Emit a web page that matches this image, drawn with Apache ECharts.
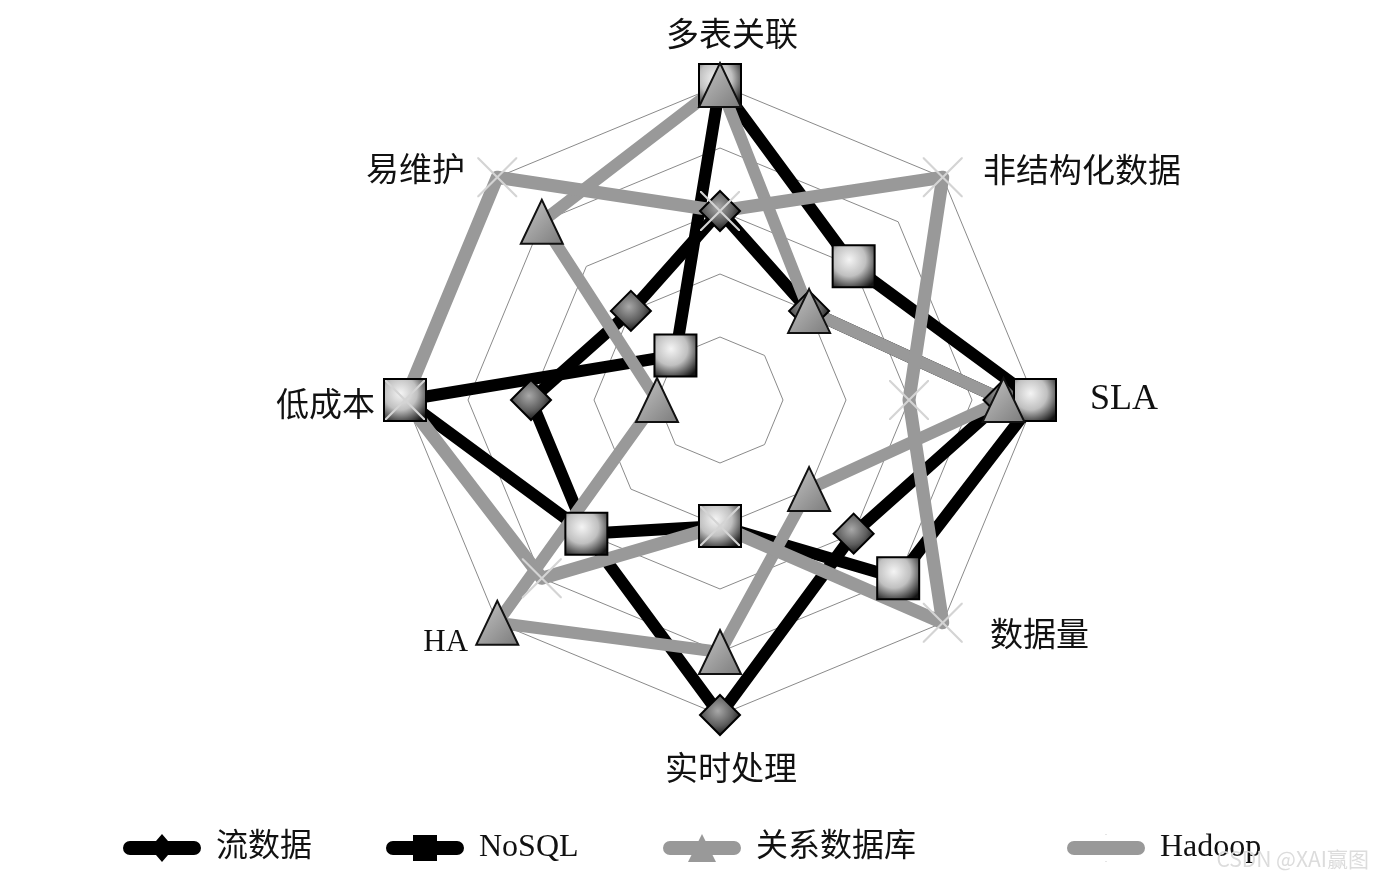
<!DOCTYPE html>
<html>
<head>
<meta charset="utf-8">
<title>radar</title>
<script src="https://cdn.jsdelivr.net/npm/echarts@6.0.0/dist/echarts.min.js"></script>
<style>
html,body{margin:0;padding:0;background:#fff;}
#main{width:1380px;height:883px;}
</style>
</head>
<body>
<div id="main"></div>
<script>
// 指标: ECharts 雷达图按逆时针排列, 从正上方开始
var indicators = ['多表关联', '易维护', '低成本', 'HA', '实时处理', '数据量', 'SLA', '非结构化数据'];
var indicatorMax = 5;
var seriesNames = ['流数据', 'NoSQL', '关系数据库', 'Hadoop'];
var streamData = [3, 2, 3, 3, 5, 3, 4.5, 2];
var nosqlData = [5, 1, 5, 3, 2, 4, 5, 3];
var rdbData = [5, 4, 1, 5, 4, 2, 4.5, 2];
var hadoopData = [3, 5, 5, 4, 2, 5, 3, 5];

var myChart = echarts.init(document.getElementById('main'));

var cjk = "'Liberation Serif', 'Noto Sans CJK SC', serif";

// 每个指标名的微调样式
var nameKey = {
    '多表关联': 'top', '非结构化数据': 'ur', 'SLA': 'r', '数据量': 'dr',
    '实时处理': 'bot', 'HA': 'dl', '低成本': 'l', '易维护': 'ul'
};

// X 形标记 (Hadoop)
var crossPath = 'path://M0,0 L1.5,0 L20,18.5 L38.5,0 L40,0 L40,1.5 L21.5,20 L40,38.5 L40,40 L38.5,40 L20,21.5 L1.5,40 L0,40 L0,38.5 L18.5,20 L0,1.5 Z';

var barPath = 'M7,7 L71,7 A7,7 0 0 1 71,21 L7,21 A7,7 0 0 1 7,7 Z';
var legendIcons = [
    'path://' + barPath + ' M39,0 L51,14 L39,28 L27,14 Z',
    'path://' + barPath + ' M27,1 L51,1 L51,27 L27,27 Z',
    'path://' + barPath + ' M39,0 L53,28 L25,28 Z',
    'path://' + barPath + ' M38,0 L40,0 L39,0.5 Z M38,28 L40,28 L39,27.5 Z'
];
var legendColors = ['#000', '#000', '#999', '#999'];
var legendLeft = [123, 386, 663, 1067];

option = {
    backgroundColor: '#fff',
    title: {
        text: 'CSDN @XAI赢图',
        right: 6,
        top: 844,
        textStyle: {
            color: '#dcdcdc',
            fontSize: 21,
            fontWeight: 'normal',
            fontFamily: "'Noto Sans CJK SC', sans-serif"
        }
    },
    legend: seriesNames.map(function (name, i) {
        return {
            data: [{
                name: name,
                icon: legendIcons[i],
                itemStyle: { color: legendColors[i], borderWidth: 0 }
            }],
            left: legendLeft[i],
            top: 832,
            padding: 0,
            itemWidth: 78,
            itemHeight: 28,
            selectedMode: false,
            textStyle: {
                fontSize: 32,
                color: '#111',
                fontFamily: cjk,
                padding: [0, 0, 0, 10]
            }
        };
    }),
    radar: {
        center: [720, 400],
        radius: 315,
        startAngle: 90,
        splitNumber: 5,
        shape: 'polygon',
        nameGap: 20,
        indicator: indicators.map(function (n) {
            return { name: n, min: 0, max: indicatorMax };
        }),
        axisName: {
            color: '#111',
            fontSize: 33,
            fontFamily: cjk,
            formatter: function (value) {
                return '{' + nameKey[value] + '|' + value + '}';
            },
            rich: {
                top: { padding: [0, 0, 11, 24] },
                ur: { padding: [20, 0, 0, 26] },
                r: { padding: [0, 0, 0, 35], fontSize: 36 },
                dr: { padding: [0, 0, 0, 33] },
                bot: { padding: [20, 0, 0, 22] },
                dl: { padding: [12, 15, 0, 0], fontSize: 31 },
                l: { padding: [14, 10, 0, 0] },
                ul: { padding: [18, 18, 0, 0] }
            }
        },
        axisLine: { show: false },
        axisTick: { show: false },
        axisLabel: { show: false },
        splitLine: {
            lineStyle: { color: '#8a8a8a', width: 1 }
        },
        splitArea: { show: false }
    },
    series: [
        {
            name: '对比',
            type: 'radar',
            silent: true,
            data: [
                {
                    name: seriesNames[0],
                    value: streamData,
                    symbol: 'diamond',
                    symbolSize: 40,
                    lineStyle: { color: '#000', width: 12, join: 'round', cap: 'round' },
                    itemStyle: {
                        color: {
                            type: 'radial', x: 0.45, y: 0.4, r: 0.6,
                            colorStops: [
                                { offset: 0, color: '#a8a8a8' },
                                { offset: 0.6, color: '#5e5e5e' },
                                { offset: 1, color: '#151515' }
                            ]
                        },
                        borderColor: '#000',
                        borderWidth: 2
                    }
                },
                {
                    name: seriesNames[1],
                    value: nosqlData,
                    symbol: 'rect',
                    symbolSize: 42,
                    lineStyle: { color: '#000', width: 12, join: 'round', cap: 'round' },
                    itemStyle: {
                        color: {
                            type: 'radial', x: 0.4, y: 0.35, r: 0.75,
                            colorStops: [
                                { offset: 0, color: '#f4f4f4' },
                                { offset: 0.5, color: '#c0c0c0' },
                                { offset: 1, color: '#151515' }
                            ]
                        },
                        borderColor: '#000',
                        borderWidth: 2
                    }
                },
                {
                    name: seriesNames[2],
                    value: rdbData,
                    symbol: 'triangle',
                    symbolSize: [42, 44],
                    lineStyle: { color: '#999', width: 12, join: 'round', cap: 'round' },
                    itemStyle: {
                        color: {
                            type: 'linear', x: 0, y: 0, x2: 1, y2: 1,
                            colorStops: [
                                { offset: 0, color: '#c8c8c8' },
                                { offset: 1, color: '#7a7a7a' }
                            ]
                        },
                        borderColor: '#111',
                        borderWidth: 2
                    }
                },
                {
                    name: seriesNames[3],
                    value: hadoopData,
                    symbol: crossPath,
                    symbolSize: 40,
                    lineStyle: { color: '#999', width: 13, join: 'round', cap: 'round' },
                    itemStyle: {
                        color: '#d4d4d4',
                        borderWidth: 0
                    }
                }
            ]
        }
    ]
};

myChart.setOption(option);
</script>
</body>
</html>
